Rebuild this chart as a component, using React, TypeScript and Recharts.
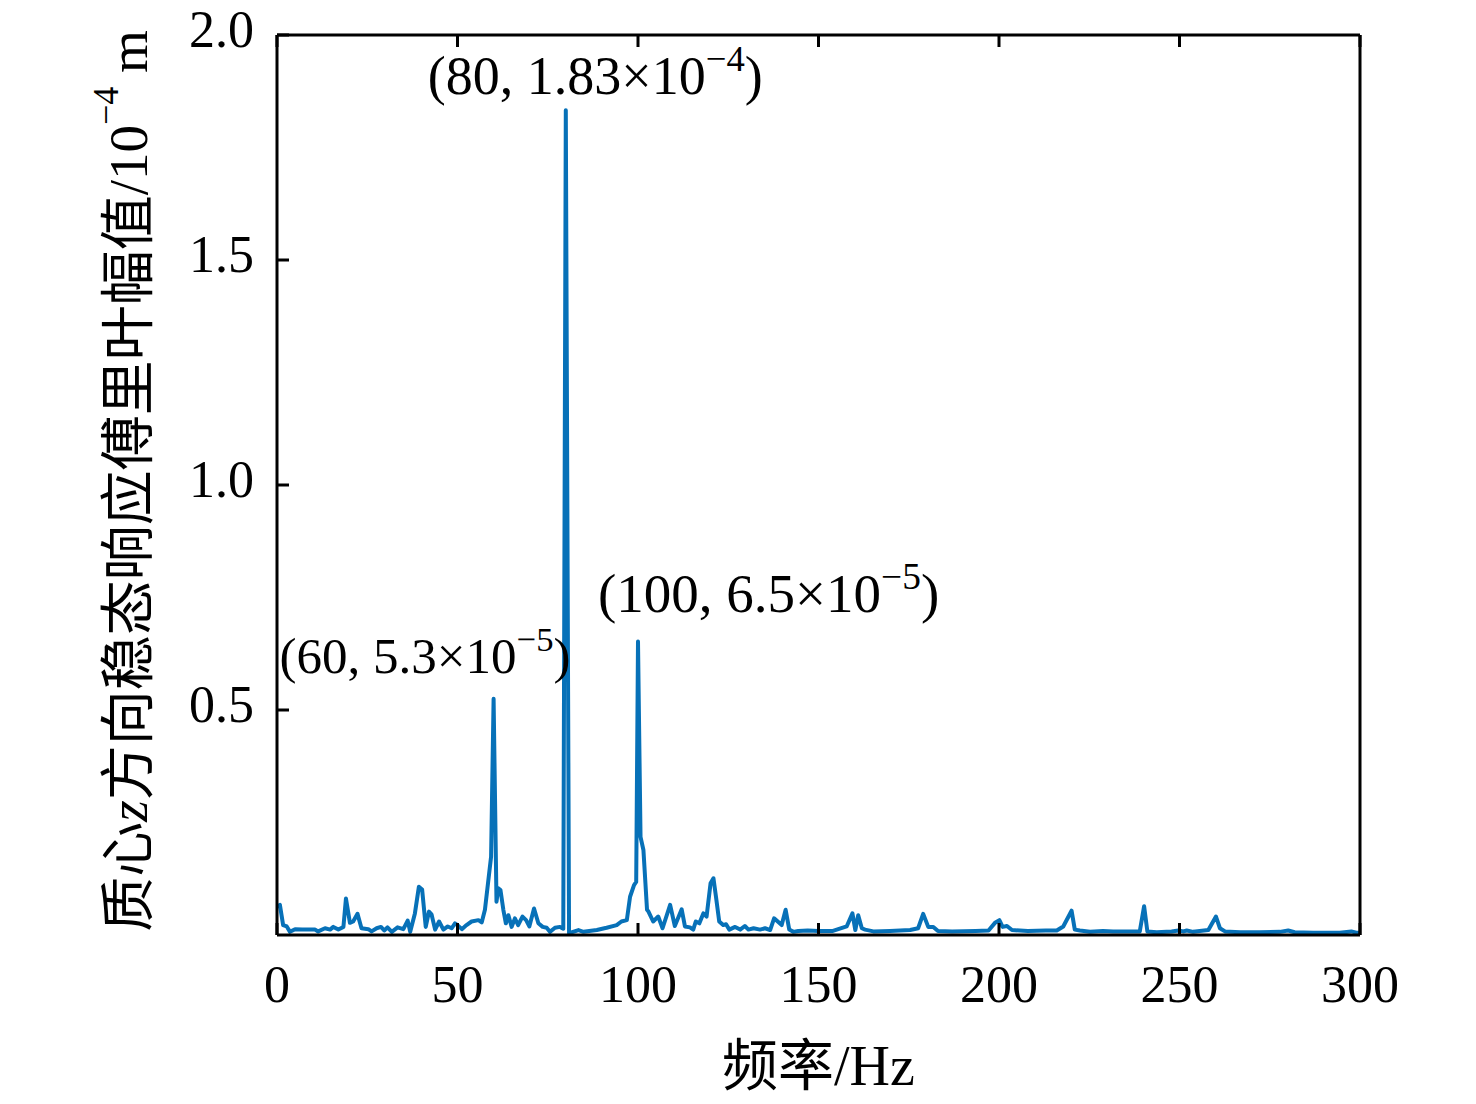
import { Line, LineChart, ReferenceDot, XAxis, YAxis } from "recharts";

// frequency (Hz) and amplitude (x 1e-4 m)
const freqHz = [
    0, 0.8, 1.7, 2.7, 3.6, 5, 7, 9, 10.5, 11.4, 13.3, 14.7, 15.6, 17, 18.4, 19.1, 20.2, 21.1, 22.3, 23.4,
    25.3, 26.2, 27.6, 28.8, 29.7, 30.6, 31.8, 33.4, 35, 36.2, 36.9, 38.2, 39.3, 40.2, 41.2, 42.1, 42.8, 43.8, 44.9, 46.1,
    47.3, 48.4, 49.3, 50, 51.2, 52.5, 53.9, 55.8, 56.7, 57.6, 59.3, 60, 60.8, 61.3, 61.9, 62.7, 63.4, 64.1, 65, 65.9,
    66.8, 68, 69, 69.9, 71.2, 72.4, 73.6, 74.7, 75.6, 77, 78.4, 79.3, 80, 80.9, 83.5, 84.9, 88.6, 91.3, 94.1, 95.4,
    96.9, 97.8, 98.9, 99.5, 100, 100.7, 101.5, 102.5, 102.9, 104.2, 105.6, 106.8, 108.9, 110.2, 112.1, 113, 114.4, 115.3, 116, 117,
    118.1, 119, 120.1, 120.9, 121.6, 122.5, 123.6, 124.4, 125.3, 126.9, 128.3, 129.6, 130.6, 132, 133.8, 135.2, 136.6, 137.7, 139.8, 140.9,
    141.9, 143, 144.4, 147, 150, 154, 157.8, 159.4, 160.2, 161, 162, 162.9, 165.2, 169.8, 175.4, 177.6, 179, 180.4, 181.8, 183.1,
    187, 193.5, 197.1, 199, 200.1, 201, 202.2, 203.6, 208, 213, 216, 217.8, 220.1, 221, 222.4, 225.2, 228.8, 231.6, 236.2, 239,
    240.2, 241.1, 243.7, 247.8, 249.7, 251.1, 252, 253.8, 258, 260.1, 261.2, 262.6, 266.8, 272.3, 277.8, 280.1, 281.9, 287, 294.4, 297.6,
    299, 300,
];
const amplitude = [
    0.063, 0.067, 0.022, 0.019, 0.007, 0.013, 0.012, 0.012, 0.012, 0.008, 0.015, 0.012, 0.018, 0.012, 0.018, 0.081, 0.027, 0.03, 0.047, 0.015,
    0.013, 0.008, 0.015, 0.018, 0.01, 0.017, 0.007, 0.017, 0.013, 0.032, 0.007, 0.048, 0.107, 0.101, 0.018, 0.052, 0.046, 0.012, 0.03, 0.012,
    0.019, 0.015, 0.026, 0.022, 0.013, 0.022, 0.03, 0.033, 0.028, 0.056, 0.174, 0.525, 0.074, 0.104, 0.1, 0.056, 0.026, 0.044, 0.018, 0.037,
    0.022, 0.041, 0.033, 0.019, 0.059, 0.026, 0.018, 0.016, 0.007, 0.016, 0.018, 0.014, 1.833, 0.004, 0.011, 0.007, 0.011, 0.016, 0.022, 0.03,
    0.033, 0.085, 0.111, 0.118, 0.652, 0.218, 0.189, 0.056, 0.052, 0.03, 0.041, 0.015, 0.067, 0.02, 0.057, 0.019, 0.017, 0.012, 0.03, 0.026,
    0.048, 0.041, 0.115, 0.126, 0.085, 0.03, 0.022, 0.024, 0.012, 0.018, 0.012, 0.02, 0.012, 0.015, 0.012, 0.015, 0.011, 0.037, 0.022, 0.056,
    0.012, 0.007, 0.009, 0.01, 0.009, 0.009, 0.019, 0.048, 0.011, 0.044, 0.015, 0.012, 0.008, 0.009, 0.011, 0.015, 0.047, 0.018, 0.018, 0.009,
    0.008, 0.009, 0.01, 0.028, 0.033, 0.018, 0.02, 0.011, 0.009, 0.01, 0.01, 0.019, 0.054, 0.012, 0.01, 0.007, 0.009, 0.008, 0.008, 0.008,
    0.064, 0.008, 0.006, 0.008, 0.01, 0.008, 0.01, 0.007, 0.011, 0.041, 0.015, 0.008, 0.006, 0.006, 0.007, 0.01, 0.006, 0.005, 0.005, 0.008,
    0.005, 0.005,
];

const xTicks = [0, 50, 100, 150, 200, 250, 300];
const yTicks = [0.5, 1.0, 1.5, 2.0];

// annotated peaks
const peakFreq = [60, 80, 100];
const peakAmp = [0.525, 1.833, 0.652];
const peakCoef = ["5.3", "1.83", "6.5"];
const peakExp = ["\u22125", "\u22124", "\u22125"];

const data = freqHz.map((f, i) => ({ f, a: amplitude[i] }));

const FONT = "'Liberation Serif', 'Times New Roman', 'Noto Sans CJK SC', serif";
const FS = 52;
const BLUE = "#0771b8";

// label offsets relative to the peak point, and per-label size
const peakDx = [-214, -138, -40];
const peakDy = [-26, -16, -30];
const peakFs = [51, 54, 55];

const PeakLabel = (props: any) => {
    const { viewBox, idx } = props;
    if (!viewBox) return null;
    const x = viewBox.x + viewBox.width / 2 + peakDx[idx];
    const y = viewBox.y + viewBox.height / 2 + peakDy[idx];
    const fs = peakFs[idx];
    return (
        <text x={x} y={y} fontFamily={FONT} fontSize={fs} fill="#000" textAnchor="start">
            <tspan>{`(${peakFreq[idx]}, ${peakCoef[idx]}\u00d710`}</tspan>
            <tspan fontSize={fs * 0.68} dy={-fs * 0.42}>{peakExp[idx]}</tspan>
            <tspan dy={fs * 0.42}>)</tspan>
        </text>
    );
};

const YLabel = (props: any) => {
    const { viewBox } = props;
    const cx = 120;
    const cy = viewBox.y + viewBox.height / 2 - 4;
    return (
        <text
            x={cx}
            y={cy}
            transform={`rotate(-90, ${cx}, ${cy})`}
            textAnchor="middle"
            dominantBaseline="central"
            fontFamily={FONT}
            fontSize={55}
            fill="#000"
        >
            <tspan>质心</tspan>
            <tspan fontStyle="italic">z</tspan>
            <tspan>方向稳态响应傅里叶幅值/10</tspan>
            <tspan fontSize={36} dy={-22}>{"\u22124"}</tspan>
            <tspan dy={22}> m</tspan>
        </text>
    );
};

const XLabel = (props: any) => {
    const { viewBox } = props;
    return (
        <text
            x={viewBox.x + viewBox.width / 2}
            y={viewBox.y + 150}
            textAnchor="middle"
            fontFamily={FONT}
            fontSize={56}
            fill="#000"
        >
            频率/Hz
        </text>
    );
};

const axisStyle = { stroke: "#000", strokeWidth: 3 };
const tickFont = { fontFamily: FONT, fontSize: FS, fill: "#000" };

const App = () => {
    return (
        <div style={{ width: 1460, height: 1090, background: "#fff" }}>
            <LineChart
                width={1460}
                height={1090}
                data={data}
                margin={{ top: 17, right: 98, left: 0, bottom: 13 }}
            >
                <XAxis
                    xAxisId="bottom"
                    dataKey="f"
                    type="number"
                    domain={[0, 300]}
                    ticks={xTicks}
                    interval={0}
                    height={150}
                    axisLine={axisStyle}
                    tickLine={axisStyle}
                    tickSize={-12}
                    tickMargin={42}
                    tick={tickFont}
                    label={<XLabel />}
                />
                <XAxis
                    xAxisId="top"
                    orientation="top"
                    dataKey="f"
                    type="number"
                    domain={[0, 300]}
                    ticks={xTicks}
                    interval={0}
                    height={10}
                    axisLine={axisStyle}
                    tickLine={axisStyle}
                    tickSize={-12}
                    tickFormatter={() => ""}
                />
                <YAxis
                    yAxisId="left"
                    type="number"
                    domain={[0, 2]}
                    ticks={yTicks}
                    interval={0}
                    width={269}
                    axisLine={axisStyle}
                    tickLine={axisStyle}
                    tickSize={-12}
                    tickMargin={35}
                    tick={{ ...tickFont, dy: -6 }}
                    tickFormatter={(v: number) => v.toFixed(1)}
                    allowDataOverflow
                    label={<YLabel />}
                />
                <YAxis
                    yAxisId="right"
                    orientation="right"
                    type="number"
                    domain={[0, 2]}
                    ticks={yTicks}
                    interval={0}
                    width={10}
                    axisLine={axisStyle}
                    tickLine={axisStyle}
                    tickSize={-12}
                    tickFormatter={() => ""}
                />
                <Line
                    xAxisId="bottom"
                    yAxisId="left"
                    type="linear"
                    dataKey="a"
                    stroke={BLUE}
                    strokeWidth={4}
                    strokeLinejoin="round"
                    dot={false}
                    isAnimationActive={false}
                />
                {peakFreq.map((f, i) => (
                    <ReferenceDot
                        key={f}
                        xAxisId="bottom"
                        yAxisId="left"
                        x={f}
                        y={peakAmp[i]}
                        r={0}
                        fill="none"
                        stroke="none"
                        label={<PeakLabel idx={i} />}
                    />
                ))}
            </LineChart>
        </div>
    );
};

export default App;
